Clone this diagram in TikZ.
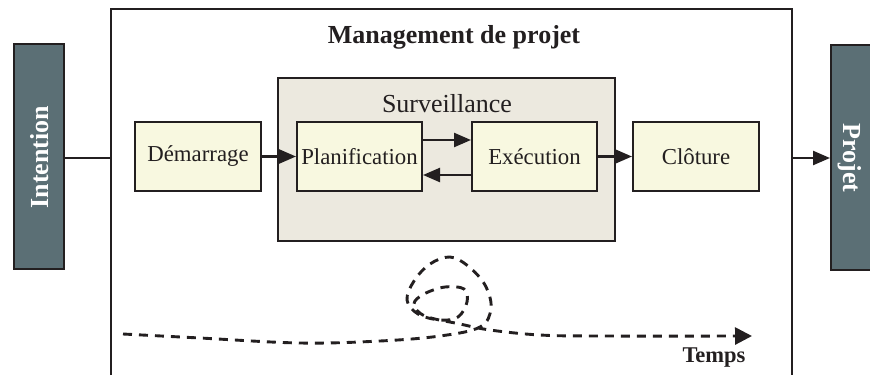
\documentclass[tikz,border=0pt]{standalone}
\usepackage{fontspec}
\setmainfont{Liberation Serif}
\usetikzlibrary{arrows.meta,calc}
\definecolor{ink}{HTML}{231F20}
\definecolor{slate}{HTML}{5B6F75}
\definecolor{phase}{HTML}{F8F8E0}
\definecolor{monitor}{HTML}{ECE9DF}
\tikzset{
  sidebar/.style={draw=ink, line width=2pt, fill=slate, text=white,
    minimum width=50pt, minimum height=225pt, inner sep=0pt},
  sidetext/.style={text=white, font=\fontsize{26}{29}\selectfont\bfseries, inner sep=0pt},
  phasebox/.style={draw=ink, line width=2pt, fill=phase, text=ink,
    minimum height=69pt, inner sep=0pt, font=\fontsize{22.8}{26}\selectfont},
  link/.style={draw=ink, line width=2.4pt},
  flow/.style={link, -{Triangle[length=17pt,width=14pt]}},
  timeline/.style={draw=ink, line width=2.9pt, dash pattern=on 9pt off 7pt,
    -{Triangle[length=17pt,width=17pt]}}
}
\begin{document}
\begin{tikzpicture}[x=1pt,y=-1pt]
\useasboundingbox (0,0) rectangle (870,375);

% side bars
\node[sidebar] (intention) at (39,156.5) {};
\node[sidetext, rotate=90] (intentionlabel) at (40,157) {Intention};
\node[sidebar] (projet) at (856,157.5) {};
\node[sidetext, rotate=-90] (projetlabel) at (850,158) {Projet};

% management frame, open at the bottom
\draw[ink, line width=1.8pt] (111,375) -- (111,9) -- (792,9) -- (792,375);
\node[text=ink, font=\fontsize{26}{29}\selectfont\bfseries] (title) at (454,37) {Management de projet};

% monitoring area
\node[draw=ink, line width=2pt, fill=monitor, minimum width=337pt, minimum height=163pt, inner sep=0pt]
  (surv) at (446.5,159.5) {};
\node[text=ink, font=\fontsize{26}{29}\selectfont] (survlabel) at (447,104) {Surveillance};

% phases
\node[phasebox, minimum width=126pt] (dem) at (198,156.5) {Démarrage};
\node[phasebox, minimum width=125pt] (plan) at (359.5,156.5) {Planification};
\node[phasebox, minimum width=125pt] (exe) at (534.5,156.5) {Exécution};
\node[phasebox, minimum width=126pt] (clo) at (696,156.5) {Clôture};

% frame crossing points
\coordinate (fin) at (111,158);
\coordinate (fout) at (792,158);

% connectors
\draw[link] (intention.east |- fin) -- (fin);
\draw[flow] (fout) -- (fout -| projet.west);
\draw[flow] (dem.east) -- (plan.west);
\draw[flow] (exe.east) -- (clo.west);
\draw[flow] ($(plan.east)+(0,-16.5)$) -- ($(exe.west)+(0,-16.5)$);
\draw[flow] ($(exe.west)+(0,18.5)$) -- ($(plan.east)+(0,18.5)$);

% time line with its loops
\coordinate (tstart) at (123,334);
\coordinate (tend) at (752,336);
\draw[timeline] plot[smooth, tension=0.6] coordinates {
  (tstart) (200,338) (300,343) (380,341) (440,336) (480,327) (491,308) (485,285)
  (468,266) (450,257) (430,264) (414,281) (407,300) (418,314) (440,320)
  (458,317) (467,302) (464,289) (445,287) (424,294) (414,304) (425,316)
  (460,324) (490,330) (540,335) (600,336) (tend)};
\node[text=ink, font=\fontsize{22.5}{26}\selectfont\bfseries] (temps) at (714,358) {Temps};
\end{tikzpicture}
\end{document}
